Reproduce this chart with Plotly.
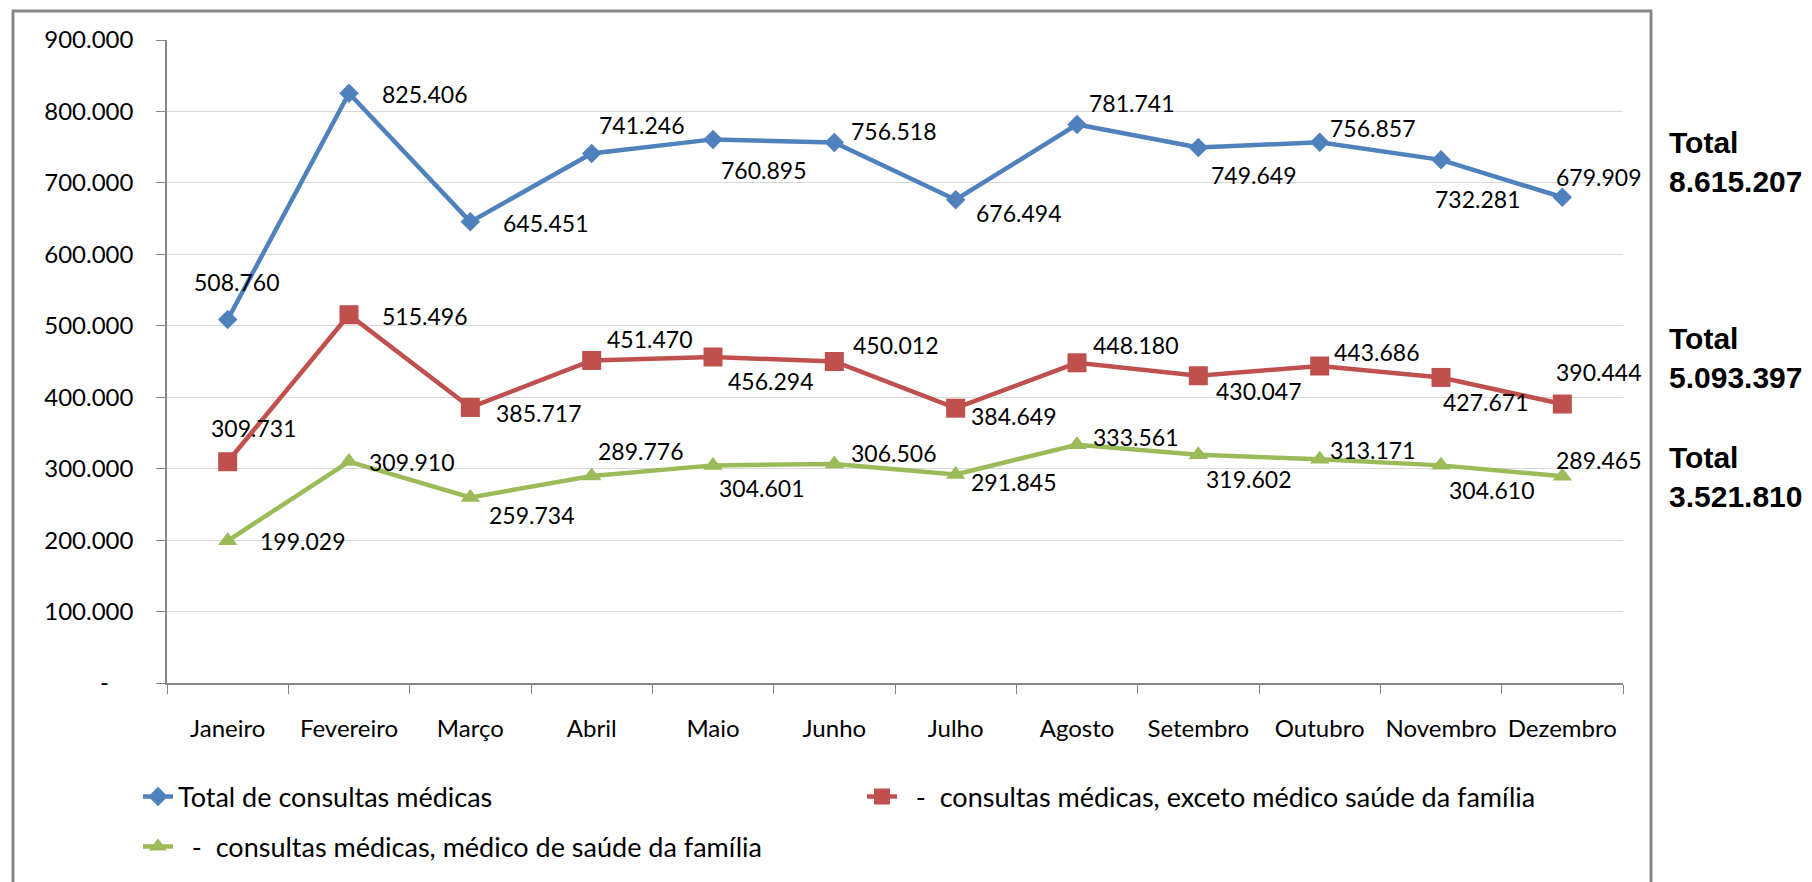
import plotly.graph_objects as go

# ---------------- data ----------------
months = ["Janeiro", "Fevereiro", "Março", "Abril", "Maio", "Junho", "Julho",
          "Agosto", "Setembro", "Outubro", "Novembro", "Dezembro"]
total_consultas = [508760, 825406, 645451, 741246, 760895, 756518, 676494,
                   781741, 749649, 756857, 732281, 679909]
exceto_psf = [309731, 515496, 385717, 451470, 456294, 450012, 384649,
              448180, 430047, 443686, 427671, 390444]
medico_psf = [199029, 309910, 259734, 289776, 304601, 306506, 291845,
              333561, 319602, 313171, 304610, 289465]
series_names = ["Total de consultas médicas",
                "\u00a0\u00a0-\u00a0\u00a0consultas médicas, exceto médico saúde da família",
                "\u00a0\u00a0-\u00a0\u00a0consultas médicas, médico de saúde da família"]
y_tickvals = [0, 100000, 200000, 300000, 400000, 500000, 600000, 700000, 800000, 900000]
y_ticktext = ["-\u00a0\u00a0\u00a0\u00a0", "100.000", "200.000", "300.000", "400.000",
              "500.000", "600.000", "700.000", "800.000", "900.000"]

# ---------------- styling ----------------
colors = ["#4F81BD", "#C0504D", "#9BBB59"]
symbols = ["diamond", "square", "triangle-up"]
msizes = [15, 19, 17]
FONT = "Lato, 'Open Sans', sans-serif"

# label offsets (pixels: dx right, dy down) for each series / month
label_offsets = [
    [(9, -38), (75, 1), (75, 1), (50, -28), (50, 31), (59, -12), (63, 13),
     (54, -21), (55, 28), (53, -14), (36, 39), (36, -20)],
    [(26, -34), (75, 1), (68, 6), (58, -21), (57, 24), (61, -16), (58, 8),
     (58, -18), (60, 15), (57, -14), (44, 25), (36, -32)],
    [(75, 0), (62, 0), (61, 18), (49, -25), (48, 23), (59, -11), (58, 8),
     (58, -8), (50, 24), (53, -9), (50, 25), (36, -16)],
]


def fmt(v):
    return f"{v:,}".replace(",", ".")


W, H = 1812, 882
L, R, T, B = 167, 189, 40, 198
PW, PH = W - L - R, H - T - B

fig = go.Figure()
all_series = [total_consultas, exceto_psf, medico_psf]
legend_ids = ["legend", "legend2", "legend3"]
for i, vals in enumerate(all_series):
    fig.add_trace(go.Scatter(
        x=months, y=vals, name=series_names[i], mode="lines+markers",
        line=dict(color=colors[i], width=4.5),
        marker=dict(symbol=symbols[i], size=msizes[i], color=colors[i],
                    line=dict(width=0)),
        legend=legend_ids[i], showlegend=True, cliponaxis=False,
    ))

annotations = []
for i, vals in enumerate(all_series):
    for j, v in enumerate(vals):
        dx, dy = label_offsets[i][j]
        annotations.append(dict(
            x=months[j], y=v, xref="x", yref="y", text=fmt(v), showarrow=False,
            xshift=dx, yshift=-dy, font=dict(family=FONT, size=23, color="#000000"),
        ))

# totals on the right
totals = [sum(s) for s in all_series]
total_centers_px = [162, 358, 478]
for tot, cy in zip(totals, total_centers_px):
    annotations.append(dict(
        x=(1667 - L) / PW, y=(H - B - cy) / PH, xref="paper", yref="paper",
        xanchor="left", yanchor="middle", align="left", showarrow=False,
        text=f"<b>Total<br>{fmt(tot)}</b>",
        font=dict(family="'Liberation Sans', Arial, sans-serif", size=30, color="#000000"),
    ))

# outer chart border
shapes = [dict(
    type="rect", xref="paper", yref="paper",
    x0=(13 - L) / PW, x1=(1651 - L) / PW,
    y0=(H - B - 940) / PH, y1=(H - B - 11) / PH,
    line=dict(color="#868686", width=3), fillcolor="rgba(0,0,0,0)", layer="below",
)]

legend_common = dict(orientation="h", font=dict(family=FONT, size=27, color="#000000"),
                     bgcolor="rgba(0,0,0,0)", borderwidth=0, xanchor="left", yanchor="middle")

fig.update_layout(
    width=W, height=H,
    margin=dict(l=L, r=R, t=T, b=B),
    paper_bgcolor="white", plot_bgcolor="white",
    font=dict(family=FONT, size=23, color="#000000"),
    xaxis=dict(
        type="category", categoryorder="array", categoryarray=months,
        range=[-0.5, 11.5], showline=True, linecolor="#868686", linewidth=1.5,
        ticks="outside", tickson="boundaries", ticklen=9, tickcolor="#868686",
        showgrid=False, zeroline=False, ticklabelstandoff=23, tickangle=0,
        tickfont=dict(family=FONT, size=24, color="#000000"),
    ),
    yaxis=dict(
        range=[0, 900000], tickvals=y_tickvals, ticktext=y_ticktext,
        showline=True, linecolor="#868686", linewidth=1.5,
        ticks="outside", ticklen=9, tickcolor="#868686",
        showgrid=True, gridcolor="#D9D9D9", gridwidth=1.2, zeroline=False,
        ticklabelstandoff=18,
        tickfont=dict(family=FONT, size=24, color="#000000"),
    ),
    legend=dict(x=(138 - L) / PW, y=(H - B - 797) / PH, **legend_common),
    legend2=dict(x=(862 - L) / PW, y=(H - B - 797) / PH, **legend_common),
    legend3=dict(x=(138 - L) / PW, y=(H - B - 847) / PH, **legend_common),
    annotations=annotations,
    shapes=shapes,
)

fig.write_html("out.html", config={"displayModeBar": False},
               post_script="document.body.style.margin='0px';document.body.style.overflow='hidden';")
